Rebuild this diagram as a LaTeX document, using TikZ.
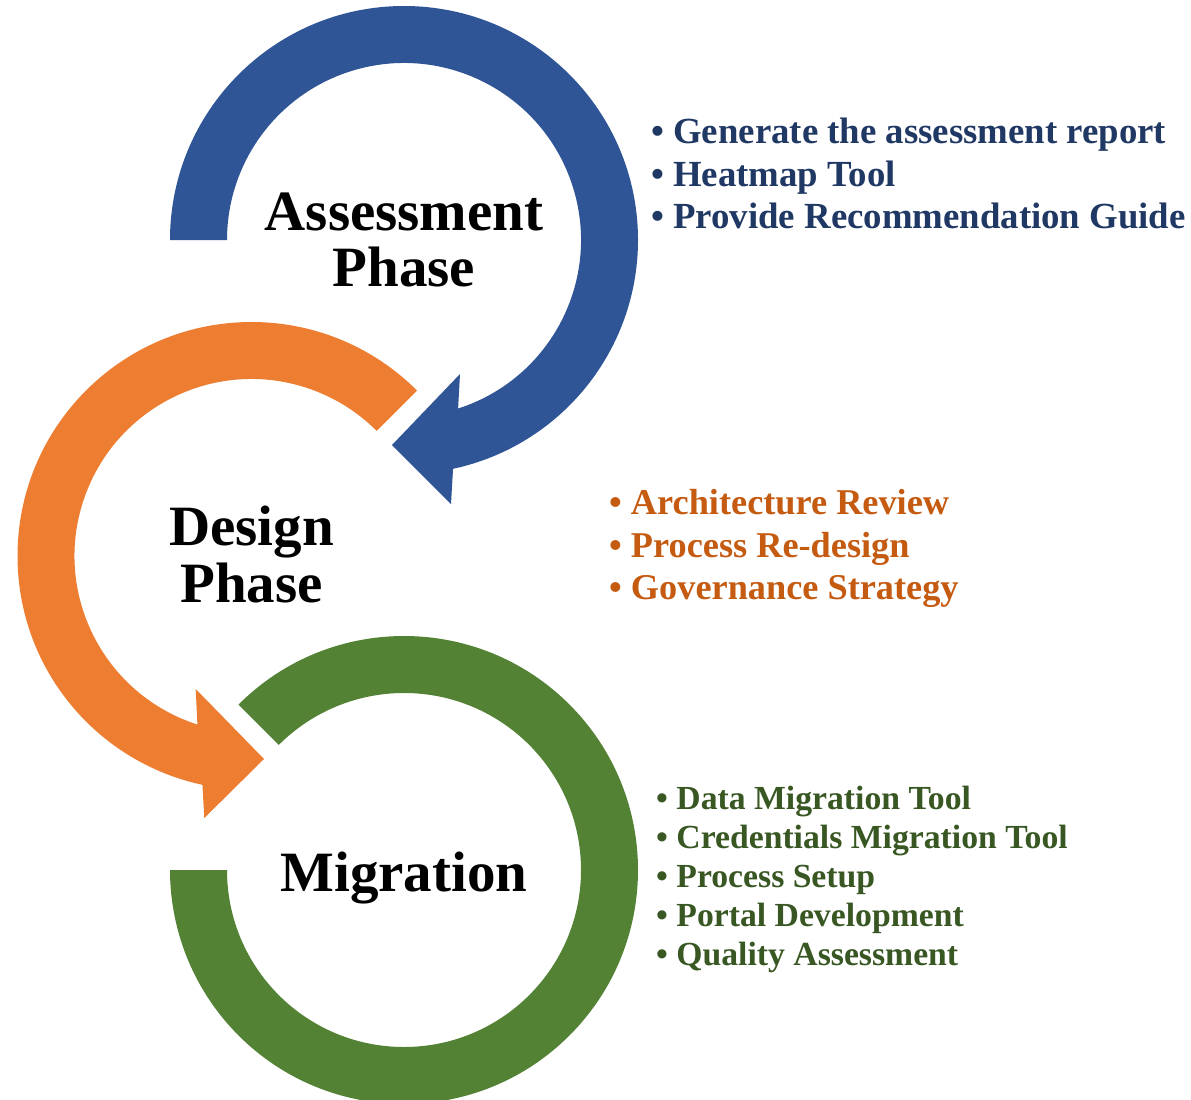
\documentclass[tikz,border=0pt]{standalone}
\usepackage{fontspec}
\setmainfont{Liberation Serif}
\definecolor{blueA}{HTML}{2F5597}
\definecolor{blueT}{HTML}{203864}
\definecolor{orangeA}{HTML}{ED7D31}
\definecolor{orangeT}{HTML}{C55A11}
\definecolor{greenA}{HTML}{548235}
\definecolor{greenT}{HTML}{385723}
\begin{document}
\begin{tikzpicture}[x=1pt,y=-1pt,
  title/.style={font=\bfseries\fontsize{57}{68}\selectfont, text=black, anchor=base, inner sep=0pt},
  bitem/.style={font=\bfseries\fontsize{36.8}{44}\selectfont, text=blueT, anchor=base west, inner sep=0pt},
  oitem/.style={font=\bfseries\fontsize{36.3}{43}\selectfont, text=orangeT, anchor=base west, inner sep=0pt},
  gitem/.style={font=\bfseries\fontsize{33.7}{40}\selectfont, text=greenT, anchor=base west, inner sep=0pt}]
\clip (0,0) rectangle (1191,1100);
\fill[white] (0,0) rectangle (1191,1100);
% blue circular arrow
\fill[blueA] ([shift={(404,240)}]180:234) arc[start angle=180, end angle=437.9, radius=234]
  -- (451,504) -- (392,445) -- (460,374)
  -- ([shift={(404,240)}]432.2:177) arc[start angle=432.2, end angle=180, radius=177] -- cycle;
% orange circular arrow
\fill[orangeA] ([shift={(251.5,556)}]-45:234) arc[start angle=-45, end angle=-257.9, radius=234]
  -- (204.3,818) -- (264,759) -- (195.7,689)
  -- ([shift={(251.5,556)}]-252.2:177) arc[start angle=-252.2, end angle=-45, radius=177] -- cycle;
% green arc
\fill[greenA] ([shift={(404,870)}]-135:234) arc[start angle=-135, end angle=180, radius=234]
  -- ([shift={(404,870)}]180:177) arc[start angle=180, end angle=-135, radius=177] -- cycle;
% titles
\node[title] (t1a) at (404,230) {Assessment};
\node[title] (t1b) at (404,286) {Phase};
\node[title] (t2a) at (251.5,545) {Design};
\node[title] (t2b) at (251.5,602) {Phase};
\node[title] (t3) at (404,891) {Migration};
% blue list
\node[bitem] (b1) at (651,143) {• Generate the assessment report};
\node[bitem] (b2) at (651,186) {• Heatmap Tool};
\node[bitem] (b3) at (651,228) {• Provide Recommendation Guide};
% orange list
\node[oitem] (o1) at (609,514) {• Architecture Review};
\node[oitem] (o2) at (609,557) {• Process Re-design};
\node[oitem] (o3) at (609,599) {• Governance Strategy};
% green list
\node[gitem] (g1) at (656,809) {• Data Migration Tool};
\node[gitem] (g2) at (656,848) {• Credentials Migration Tool};
\node[gitem] (g3) at (656,887) {• Process Setup};
\node[gitem] (g4) at (656,926) {• Portal Development};
\node[gitem] (g5) at (656,965) {• Quality Assessment};
\end{tikzpicture}
\end{document}
